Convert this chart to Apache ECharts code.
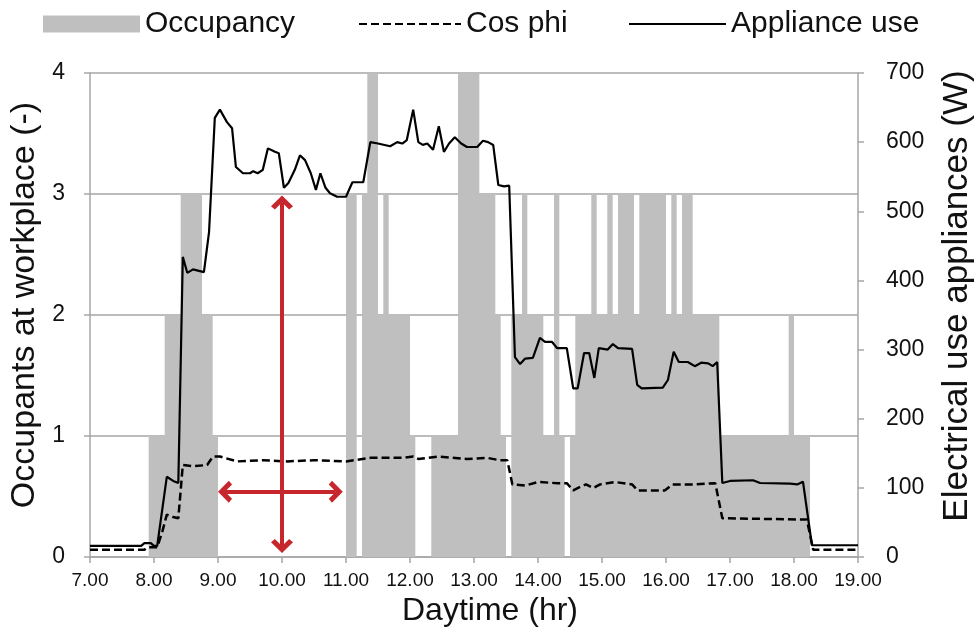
<!DOCTYPE html>
<html>
<head>
<meta charset="utf-8">
<script src="https://cdn.jsdelivr.net/npm/echarts@6/dist/echarts.min.js"></script>
<style>
  html, body { margin: 0; padding: 0; background: #fff; }
  #chart { width: 975px; height: 630px; }
</style>
</head>
<body>
<div id="chart"></div>
<script>
// 占用人数（阶梯，每个时间点起保持该值）
const occupancyTime = [7.0, 7.917, 8.167, 8.417, 8.75, 8.917, 9.0, 11.0, 11.167, 11.25, 11.333, 11.5, 11.583, 11.667,
  12.0, 12.083, 12.333, 12.75, 13.083, 13.333, 13.417, 13.5, 13.583, 13.75, 13.833, 14.083, 14.25, 14.333,
  14.417, 14.5, 14.583, 14.833, 14.917, 15.083, 15.167, 15.25, 15.5, 15.583, 16.0, 16.083, 16.167, 16.25,
  16.417, 16.833, 17.917, 18.0, 18.25, 19.0];
const occupancyLevel = [0, 1, 2, 3, 2, 1, 0, 3, 0, 3, 4, 2, 3, 2,
  1, 0, 1, 4, 3, 2, 1, 0, 2, 3, 2, 1, 3, 1,
  0, 1, 2, 3, 2, 3, 2, 3, 2, 3, 2, 3, 2, 3,
  2, 1, 2, 1, 0, 0];

// Cos phi
const cosPhiTime = [7.0, 7.85, 7.9, 8.05, 8.13, 8.2, 8.3, 8.38, 8.45, 8.6, 8.83, 8.92, 9.03, 9.3, 9.7, 10.08,
  10.5, 11.0, 11.38, 11.9, 12.05, 12.13, 12.45, 12.89, 13.2, 13.4, 13.52, 13.6, 13.8, 14.0, 14.3, 14.45,
  14.55, 14.66, 14.75, 14.86, 14.97, 15.2, 15.47, 15.56, 15.98, 16.1, 16.45, 16.77, 16.88, 18.1, 18.2,
  18.3, 19.0];
const cosPhiValue = [0.06, 0.06, 0.08, 0.08, 0.21, 0.35, 0.33, 0.32, 0.76, 0.75, 0.76, 0.83, 0.83, 0.79, 0.80, 0.79,
  0.80, 0.79, 0.82, 0.82, 0.83, 0.81, 0.83, 0.81, 0.82, 0.80, 0.80, 0.60, 0.59, 0.62, 0.61, 0.61,
  0.55, 0.58, 0.60, 0.57, 0.60, 0.62, 0.60, 0.55, 0.55, 0.60, 0.60, 0.61, 0.32, 0.31, 0.31,
  0.06, 0.06];

// 电器用电 (W)
const applianceTime = [7.0, 7.8, 7.85, 7.95, 8.0, 8.05, 8.2, 8.3, 8.38, 8.45, 8.52, 8.61, 8.78, 8.86, 8.95, 9.03,
  9.14, 9.22, 9.28, 9.39, 9.5, 9.55, 9.62, 9.7, 9.78, 9.89, 9.95, 10.03, 10.1, 10.2, 10.28, 10.36,
  10.45, 10.53, 10.6, 10.68, 10.75, 10.86, 11.0, 11.1, 11.27, 11.38, 11.5, 11.69, 11.8, 11.88, 11.95,
  12.05, 12.13, 12.2, 12.27, 12.36, 12.45, 12.53, 12.61, 12.7, 12.8, 12.89, 13.05, 13.14, 13.22, 13.3,
  13.38, 13.47, 13.55, 13.64, 13.72, 13.8, 13.92, 14.03, 14.11, 14.22, 14.3, 14.45, 14.55, 14.62, 14.72,
  14.8, 14.88, 14.95, 15.09, 15.17, 15.25, 15.47, 15.55, 15.62, 15.95, 16.03, 16.12, 16.2, 16.34, 16.45,
  16.55, 16.66, 16.73, 16.8, 16.88, 17.0, 17.36, 17.47, 17.94, 18.05, 18.14, 18.28, 19.0];
const applianceWatt = [16, 16, 20, 20, 16, 16, 116, 110, 107, 434, 411, 416, 412, 470, 635, 647,
  629, 620, 564, 555, 555, 558, 555, 560, 591, 586, 584, 534, 541, 560, 581, 574,
  555, 531, 555, 534, 526, 521, 521, 542, 542, 600, 598, 594, 600, 598, 603,
  647, 600, 596, 598, 589, 623, 586, 598, 607, 598, 593, 593, 602, 600, 596,
  538, 536, 537, 289, 279, 287, 288, 317, 311, 311, 302, 302, 244, 244, 295,
  295, 259, 302, 300, 308, 302, 301, 249, 244, 245, 256, 297, 282, 282, 276,
  281, 280, 276, 282, 107, 110, 111, 107, 106, 105, 109, 17, 17];

// 红色箭头（左轴坐标）
const vArrow = [[10, 0.09], [10, 2.93]];
const hArrow = [[9.11, 0.54], [10.84, 0.54]];

const FONT = 'Liberation Sans, Arial, sans-serif';
const GRID_GREY = '#a6a6a6';
const OCC_GREY = '#bfbfbf';
const ARROW_RED = '#c8262d';
const chevron = 'path://M10,0 L20,10 L16.5,13 L10,6.5 L3.5,13 L0,10 Z';

function pairs(xs, ys) {
  return xs.map((x, i) => [x, ys[i]]);
}

const chart = echarts.init(document.getElementById('chart'), null, { renderer: 'canvas' });

const legendBase = {
  top: 4,
  itemHeight: 17,
  textStyle: { fontFamily: FONT, fontSize: 30, color: '#111' },
  selectedMode: false
};

const option = {
  animation: false,
  textStyle: { fontFamily: FONT },
  legend: [
    Object.assign({}, legendBase, { left: 38, itemWidth: 97, data: [{ name: 'Occupancy', icon: 'rect' }] }),
    Object.assign({}, legendBase, { left: 353, itemWidth: 102, itemStyle: { opacity: 0 }, data: ['Cos phi'] }),
    Object.assign({}, legendBase, { left: 623, itemWidth: 97, itemStyle: { opacity: 0 }, data: ['Appliance use'] })
  ],
  grid: { left: 90, right: 117, top: 73, bottom: 73, containLabel: false, outerBoundsMode: 'none' },
  xAxis: {
    type: 'value',
    min: 7,
    max: 19,
    interval: 1,
    name: 'Daytime (hr)',
    nameLocation: 'middle',
    nameGap: 35,
    nameTextStyle: { fontSize: 32, color: '#111', fontFamily: FONT, padding: [0, 0, 0, 32] },
    axisLine: { show: true, lineStyle: { color: GRID_GREY, width: 1.5 } },
    axisTick: { show: true, length: 6, lineStyle: { color: GRID_GREY, width: 1.5 } },
    axisLabel: {
      margin: 14,
      fontSize: 19,
      color: '#111',
      formatter: v => v.toFixed(2)
    },
    splitLine: { show: false }
  },
  yAxis: [
    {
      type: 'value',
      min: 0,
      max: 4,
      interval: 1,
      name: 'Occupants at workplace (-)',
      nameLocation: 'middle',
      nameGap: 47,
      nameTextStyle: { fontSize: 34, color: '#111', fontFamily: FONT, padding: [0, 0, 0, 20] },
      axisLine: { show: true, lineStyle: { color: GRID_GREY, width: 1.5 } },
      axisTick: { show: true, length: 6, lineStyle: { color: GRID_GREY, width: 1.5 } },
      axisLabel: { margin: 25, fontSize: 23, color: '#111' },
      splitLine: { show: true, lineStyle: { color: GRID_GREY, width: 1.5 } }
    },
    {
      type: 'value',
      min: 0,
      max: 700,
      interval: 100,
      position: 'right',
      name: 'Electrical use appliances (W)',
      nameLocation: 'middle',
      nameGap: 82,
      nameRotate: 90,
      nameTextStyle: { fontSize: 35, color: '#111', fontFamily: FONT, padding: [0, 0, 0, 38] },
      axisLine: { show: true, lineStyle: { color: GRID_GREY, width: 1.5 } },
      axisTick: { show: true, length: 6, lineStyle: { color: GRID_GREY, width: 1.5 } },
      axisLabel: { margin: 28, fontSize: 23, color: '#111' },
      splitLine: { show: false }
    }
  ],
  series: [
    {
      name: 'Occupancy',
      type: 'line',
      step: 'end',
      yAxisIndex: 0,
      data: pairs(occupancyTime, occupancyLevel),
      showSymbol: false,
      symbol: 'none',
      color: OCC_GREY,
      itemStyle: { color: OCC_GREY },
      lineStyle: { width: 0 },
      areaStyle: { color: OCC_GREY, opacity: 1 },
      z: 1
    },
    {
      name: 'Cos phi',
      type: 'line',
      yAxisIndex: 0,
      data: pairs(cosPhiTime, cosPhiValue),
      showSymbol: false,
      symbol: 'none',
      color: '#000',
      lineStyle: { color: '#000', width: 2.5, type: [8, 4] },
      z: 3
    },
    {
      name: 'Appliance use',
      type: 'line',
      yAxisIndex: 1,
      data: pairs(applianceTime, applianceWatt),
      showSymbol: false,
      symbol: 'none',
      color: '#000',
      lineStyle: { color: '#000', width: 2.2 },
      z: 4
    },
    {
      name: 'arrows',
      type: 'line',
      yAxisIndex: 0,
      data: [],
      z: 6,
      markLine: {
        silent: true,
        animation: false,
        symbol: [chevron, chevron],
        symbolSize: [22, 14],
        label: { show: false },
        lineStyle: { color: ARROW_RED, width: 4, type: 'solid' },
        emphasis: { disabled: true },
        data: [
          [{ coord: vArrow[0] }, { coord: vArrow[1] }],
          [{ coord: hArrow[0] }, { coord: hArrow[1] }]
        ]
      }
    }
  ]
};

chart.setOption(option);

window.addEventListener('resize', function() {
  chart.resize();
});
</script>
</body>
</html>
